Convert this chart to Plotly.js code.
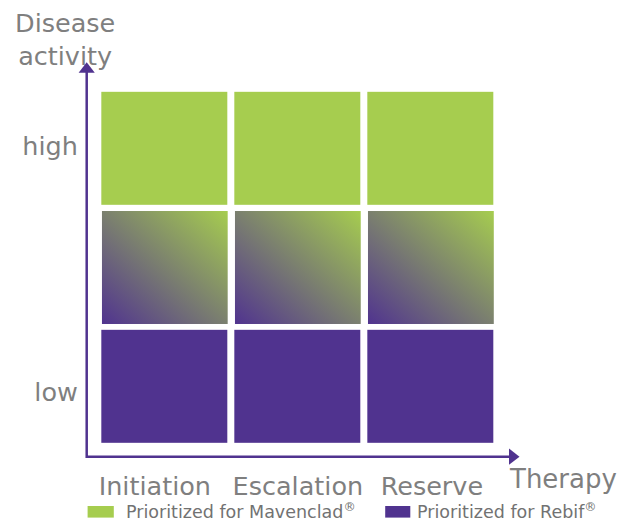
<!DOCTYPE html>
<html><head><meta charset="utf-8">
<script src="https://cdn.plot.ly/plotly-3.0.1.min.js"></script>
<style>html,body{margin:0;padding:0;background:#fff}#chart{width:621px;height:521px}</style>
</head><body><div id="chart"></div>
<script>
// ---- data ----
const therapies = ['Initiation', 'Escalation', 'Reserve'];
const activityLevels = ['low', 'medium', 'high'];
const activityTickLabels = ['low', 'high'];
// priority per cell: 0 = Rebif, 1 = Mavenclad, 0.5 = mixed (gradient)
const priorityLow = [0, 0, 0];
const priorityMid = [0.5, 0.5, 0.5];
const priorityHigh = [1, 1, 1];
const legendLabels = ['Prioritized for Mavenclad<sup>®</sup>', 'Prioritized for Rebif<sup>®</sup>'];
const yTitle = 'Disease<br>activity';
const xTitle = 'Therapy';

// ---- style ----
const GREEN = '#a6cd4f', PURPLE = '#50338f', TEXT = '#7f7f7f', LEGTEXT = '#727272';
const FONT = 'DejaVu Sans, Verdana, sans-serif';
const W = 621, H = 521, M = {l: 85, r: 97, t: 59, b: 63};
const XR = [-0.6, 2.7], YR = [-0.6, 2.75];
const pw = W - M.l - M.r, ph = H - M.t - M.b;
const pxX = pw / (XR[1] - XR[0]), pxY = ph / (YR[1] - YR[0]);
const XGAP = 7, YGAP = 6;
const dX = px => XR[0] + (px - M.l) / pxX;
const dY = py => YR[1] - (py - M.t) / pxY;
const pX = px => (px - M.l) / pw;
const pY = py => (H - M.b - py) / ph;
// small label nudges (pixels) to match the original label placement
const xLabelNudge = [-10, 0, 1];
const yLabelNudge = [6, -2];

const rows = [priorityLow, priorityMid, priorityHigh];
const zHeat = rows.map(r => r.map(v => (v === 0 || v === 1) ? v : null));

const svg = '<svg xmlns="http://www.w3.org/2000/svg" width="126" height="113" viewBox="0 0 100 100" preserveAspectRatio="none">' +
  '<defs><linearGradient id="g" x1="0" y1="1" x2="1" y2="0">' +
  '<stop offset="0" stop-color="' + PURPLE + '"/><stop offset="1" stop-color="' + GREEN + '"/>' +
  '</linearGradient></defs><rect x="0" y="0" width="100" height="100" fill="url(#g)"/></svg>';
const gradSrc = 'data:image/svg+xml;charset=utf-8,' + encodeURIComponent(svg);

const images = [];
rows.forEach((r, j) => r.forEach((v, i) => {
  if (v > 0 && v < 1) {
    images.push({
      source: gradSrc, xref: 'x', yref: 'y',
      x: i - 0.5 + XGAP / 2 / pxX, y: j + 0.5 - YGAP / 2 / pxY,
      sizex: 1 - XGAP / pxX, sizey: 1 - YGAP / pxY,
      sizing: 'stretch', xanchor: 'left', yanchor: 'top', layer: 'above'
    });
  }
}));

const heat = {
  type: 'heatmap',
  x: therapies.map((_, i) => i),
  y: activityLevels.map((_, j) => j),
  z: zHeat,
  zmin: 0, zmax: 1,
  colorscale: [[0, PURPLE], [1, GREEN]],
  showscale: false,
  xgap: XGAP, ygap: YGAP,
  hoverinfo: 'skip'
};

// axis arrows
const cornerX = 86.7, cornerY = 456.7, tipTop = 62.3, tipRight = 519.5;
const HEAD = 14;
const arrowHeads = {
  type: 'scatter', mode: 'markers', cliponaxis: false, hoverinfo: 'skip', showlegend: false,
  x: [dX(cornerX), dX(tipRight - HEAD / 2)],
  y: [dY(tipTop + HEAD / 2), dY(cornerY)],
  marker: {symbol: ['triangle-up', 'triangle-right'], size: HEAD, color: PURPLE, line: {width: 0}}
};

const P = (px, py) => pX(px) + ',' + pY(py);
const shapes = [
  {type: 'path', xref: 'paper', yref: 'paper',
   path: 'M' + P(cornerX, tipTop + 8) + ' L' + P(cornerX, cornerY) + ' L' + P(tipRight - 8, cornerY),
   line: {color: PURPLE, width: 2.5}},
  {type: 'rect', xref: 'paper', yref: 'paper', x0: pX(87.6), x1: pX(113.8), y0: pY(517.6), y1: pY(506),
   fillcolor: GREEN, line: {width: 0}},
  {type: 'rect', xref: 'paper', yref: 'paper', x0: pX(385.2), x1: pX(410.3), y0: pY(517.6), y1: pY(506),
   fillcolor: PURPLE, line: {width: 0}}
];

const annotations = [
  {text: yTitle, xref: 'paper', yref: 'paper', x: pX(65), y: pY(6), xanchor: 'center', yanchor: 'top',
   showarrow: false, align: 'center', font: {family: FONT, size: 25.5, color: TEXT}},
  {text: xTitle, xref: 'paper', yref: 'paper', x: pX(507), y: pY(479), xanchor: 'left', yanchor: 'middle',
   showarrow: false, font: {family: FONT, size: 26, color: TEXT}},
  {text: legendLabels[0], xref: 'paper', yref: 'paper', x: pX(124), y: pY(511), xanchor: 'left', yanchor: 'middle',
   showarrow: false, font: {family: FONT, size: 17.5, color: LEGTEXT}},
  {text: legendLabels[1], xref: 'paper', yref: 'paper', x: pX(415), y: pY(511), xanchor: 'left', yanchor: 'middle',
   showarrow: false, font: {family: FONT, size: 17.5, color: LEGTEXT}}
];

const layout = {
  width: W, height: H, margin: M,
  paper_bgcolor: '#fff', plot_bgcolor: '#fff',
  showlegend: false,
  font: {family: FONT, color: TEXT},
  xaxis: {range: XR, fixedrange: true, showgrid: false, zeroline: false, showline: false,
    tickmode: 'array', tickvals: therapies.map((_, i) => i + xLabelNudge[i] / pxX), ticktext: therapies,
    ticks: 'outside', ticklen: 5, tickcolor: 'rgba(0,0,0,0)',
    tickfont: {family: FONT, size: 25.5, color: TEXT}},
  yaxis: {range: YR, fixedrange: true, showgrid: false, zeroline: false, showline: false,
    tickmode: 'array', tickvals: [0, 2].map((v, k) => v - yLabelNudge[k] / pxY), ticktext: activityTickLabels,
    ticks: 'outside', ticklen: 1, tickcolor: 'rgba(0,0,0,0)',
    tickfont: {family: FONT, size: 25.5, color: TEXT}},
  images: images, shapes: shapes, annotations: annotations
};

Plotly.newPlot('chart', [heat, arrowHeads], layout, {staticPlot: true, displayModeBar: false});
</script></body></html>
